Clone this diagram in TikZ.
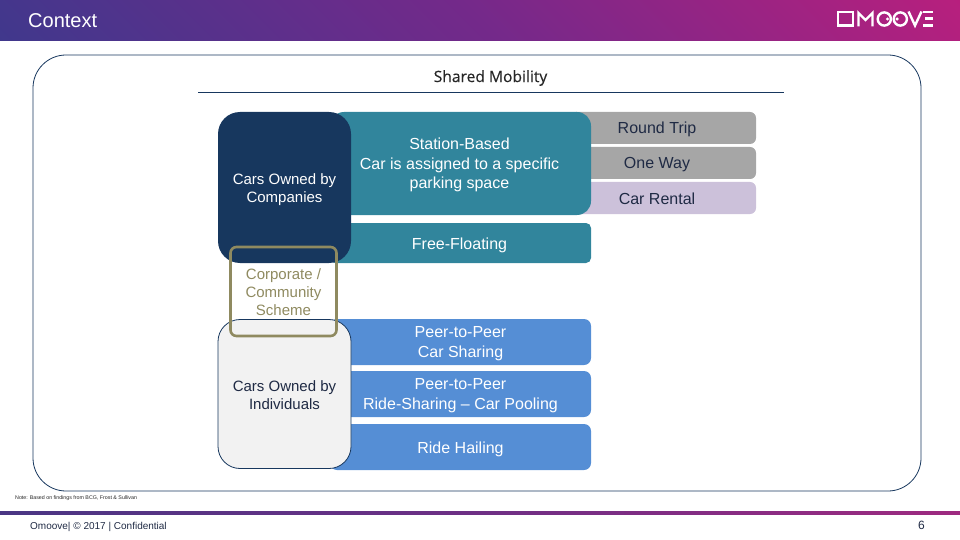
\documentclass[tikz,border=0pt]{standalone}
\usepackage{fontspec}
\setmainfont{Liberation Sans}
\newfontfamily\headfont[FakeBold=0.35]{Open Sans}
\definecolor{hleft}{HTML}{2E3D8D}
\definecolor{hmid}{HTML}{74298A}
\definecolor{hright}{HTML}{CF1C79}
\definecolor{fleft}{HTML}{4A3684}
\definecolor{fmid}{HTML}{6E2F85}
\definecolor{fright}{HTML}{9E2A80}
\definecolor{navy}{HTML}{17375E}
\definecolor{teal}{HTML}{31859C}
\definecolor{bluebox}{HTML}{558ED5}
\definecolor{greybox}{HTML}{A6A6A6}
\definecolor{lilac}{HTML}{CCC1DA}
\definecolor{tan}{HTML}{8F8A60}
\definecolor{lightbox}{HTML}{F2F2F2}
\definecolor{darktext}{HTML}{1F2A44}
\tikzset{
  x=1pt,y=-1pt,
  box/.style={inner sep=0pt,outer sep=0pt,align=center,font=\fontsize{16}{19.4}\selectfont},
  ownertext/.style={box,font=\fontsize{15}{18}\selectfont},
  owner/.style={box,rounded corners=22pt,minimum width=133pt},
  teal box/.style={box,fill=teal},
  blue box/.style={box,fill=bluebox,rounded corners=7pt,minimum width=261pt,minimum height=46pt},
  side box/.style={box,rounded corners=6pt,minimum width=186pt,minimum height=32pt},
  side text/.style={box,text=darktext},
  logo/.style={white,line width=2.4pt},
}
\begin{document}
\begin{tikzpicture}
\useasboundingbox (0,0) rectangle (960,540);
% header and footer bands
\begin{scope}
\clip (0,0) rectangle (960,41);
\path[left color=hleft,right color=hright,middle color=hmid,shading angle=135] (0,-460) rectangle (960,500);
\end{scope}
\path[left color=fleft,right color=fright,middle color=fmid] (0,511) rectangle (960,514);
\node[anchor=west,text=white,inner sep=0pt,font=\fontsize{20}{22}\selectfont] (title) at (28,21) {Context};
% logo
\draw[logo] (838,12) rectangle (853,25.5);
\draw[logo,line join=miter] (858.5,26.5) -- (858.5,13) -- (865.5,20) -- (872.5,13) -- (872.5,26.5);
\draw[logo] (884.3,19) circle (6.6);
\draw[logo] (900.3,19) circle (6.6);
\fill[white] (887.5,19) circle (1.7) (897.1,19) circle (1.7);
\draw[logo] (908.5,11.5) -- (915,25.5) -- (921.5,11.5);
\draw[logo] (923,12) -- (933,12) (925,18.7) -- (933,18.7) (923,25.5) -- (933,25.5);
% outer frame
\node[draw=navy,line width=.8pt,rounded corners=33pt,minimum width=888pt,minimum height=436pt,inner sep=0pt] (frame) at (477,273) {};
\node[font=\headfont\fontsize{15.6}{17}\selectfont,text=black!85,inner sep=0pt] (head) at (490.5,78) {Shared Mobility};
\coordinate (ruleL) at (198,92.5);
\coordinate (ruleR) at (784,92.5);
\draw[navy,line width=.7pt] (ruleL) -- (ruleR);
% side boxes
\node[side box,fill=greybox] (round) at (663,128) {};
\node[side box,fill=greybox] (oneway) at (663,163) {};
\node[side box,fill=lilac] (rental) at (663,198) {};
\node[side text] (roundt) at (657,129.5) {Round Trip};
\node[side text] (onewayt) at (657,164.5) {One Way};
\node[side text] (rentalt) at (657,198.5) {Car Rental};
% teal boxes
\node[teal box,rounded corners=14pt,minimum width=261pt,minimum height=103pt] (stationbg) at (460.5,163.5) {};
\node[box,text=white] (station) at (459.5,165) {Station-Based\\Car is assigned to a specific\\parking space};
\node[teal box,rounded corners=5pt,minimum width=261pt,minimum height=40pt] (floatbg) at (460.5,243) {};
\node[box,text=white] (float) at (459.5,245) {Free-Floating};
% blue boxes
\node[blue box] (p2pbg) at (460.5,342) {};
\node[box,text=white] (p2p) at (460.5,343.5) {Peer-to-Peer\\Car Sharing};
\node[blue box] (ridebg) at (460.5,394) {};
\node[box,text=white] (ride) at (460.5,395.5) {Peer-to-Peer\\Ride-Sharing -- Car Pooling};
\node[blue box] (hailbg) at (460.5,447) {};
\node[box,text=white] (hail) at (460.5,449) {Ride Hailing};
% owners
\node[owner,fill=navy,minimum height=151pt] (companiesbox) at (284.5,187.5) {};
\node[ownertext,text=white] (companies) at (284.5,190) {Cars Owned by\\Companies};
\node[owner,fill=lightbox,draw=navy,line width=.8pt,minimum height=149pt] (individualsbox) at (284.5,394) {};
\node[ownertext,text=darktext] (individuals) at (284.5,395) {Cars Owned by\\Individuals};
% corporate scheme
\node[box,draw=tan,line width=2.6pt,rounded corners=6pt,minimum width=106pt,minimum height=89pt] (schemebox) at (283.5,291.5) {};
\node[ownertext,text=tan] (scheme) at (283.5,292) {Corporate /\\Community\\Scheme};
% note and footer
\node[anchor=west,inner sep=0pt,text=black!85,font=\fontsize{5.3}{6}\selectfont] (note) at (15,498.5) {Note: Based on findings from BCG, Frost \& Sullivan};
\node[anchor=west,inner sep=0pt,text=darktext,font=\fontsize{10}{12}\selectfont] (foot) at (30,526.5) {Omoove| © 2017 | Confidential};
\node[inner sep=0pt,text=darktext,font=\fontsize{12}{13}\selectfont] (page) at (921.5,525.5) {6};
\end{tikzpicture}
\end{document}
